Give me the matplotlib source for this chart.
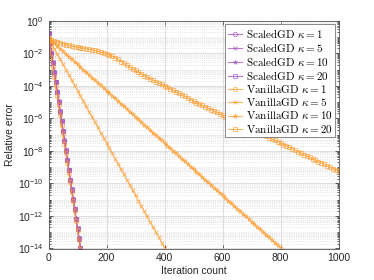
import matplotlib
matplotlib.use("Agg")
import matplotlib.pyplot as plt
import numpy as np
from matplotlib.ticker import FixedLocator, FixedFormatter, NullFormatter

plt.rcParams['mathtext.fontset'] = 'cm'
plt.rcParams['font.family'] = ['Liberation Sans', 'DejaVu Sans']

# ---------------- data (log10 of relative error) ----------------
iters_fast = list(range(0, 111, 5))
scaled_k1 = [-0.76, -1.36, -1.96, -2.56, -3.16, -3.76, -4.36, -4.96, -5.56, -6.16, -6.76, -7.36,
             -7.96, -8.56, -9.16, -9.76, -10.36, -10.96, -11.56, -12.16, -12.76, -13.36, -13.96]
scaled_k5 = [-0.76, -1.37, -1.97, -2.57, -3.17, -3.77, -4.37, -4.97, -5.57, -6.17, -6.77, -7.37,
             -7.97, -8.57, -9.17, -9.77, -10.37, -10.97, -11.57, -12.17, -12.77, -13.37, -13.97]
scaled_k10 = [-0.76, -1.37, -1.98, -2.58, -3.18, -3.78, -4.38, -4.98, -5.58, -6.18, -6.78, -7.38,
              -7.98, -8.58, -9.18, -9.78, -10.38, -10.98, -11.58, -12.18, -12.78, -13.38, -13.98]
scaled_k20 = [-0.76, -1.38, -1.99, -2.59, -3.19, -3.79, -4.39, -4.99, -5.59, -6.19, -6.79, -7.39,
              -7.99, -8.59, -9.19, -9.79, -10.39, -10.99, -11.59, -12.19, -12.79, -13.39, -13.99]
vanilla_k1 = [-1.08, -1.67, -2.26, -2.85, -3.44, -4.03, -4.62, -5.21, -5.80, -6.39, -6.98, -7.57,
              -8.16, -8.75, -9.34, -9.93, -10.52, -11.11, -11.70, -12.29, -12.88, -13.47, -14.06]

iters_k5 = list(range(0, 401, 10))
vanilla_k5 = [-1.08, -1.40, -1.72, -2.05, -2.37, -2.69, -3.01, -3.33, -3.66, -3.98, -4.30, -4.62,
              -4.94, -5.27, -5.59, -5.91, -6.23, -6.55, -6.88, -7.20, -7.52, -7.84, -8.16, -8.49,
              -8.81, -9.13, -9.45, -9.77, -10.10, -10.42, -10.74, -11.06, -11.38, -11.71, -12.03,
              -12.35, -12.67, -12.99, -13.32, -13.64, -13.96]

iters_k10 = list(range(0, 801, 10))
vanilla_k10 = [-1.08, -1.24, -1.40, -1.56, -1.72, -1.89, -2.05, -2.21, -2.37, -2.53, -2.69, -2.85,
               -3.01, -3.17, -3.33, -3.50, -3.66, -3.82, -3.98, -4.14, -4.30, -4.46, -4.62, -4.78,
               -4.94, -5.11, -5.27, -5.43, -5.59, -5.75, -5.91, -6.07, -6.23, -6.39, -6.55, -6.72,
               -6.88, -7.04, -7.20, -7.36, -7.52, -7.68, -7.84, -8.00, -8.16, -8.33, -8.49, -8.65,
               -8.81, -8.97, -9.13, -9.29, -9.45, -9.61, -9.77, -9.94, -10.10, -10.26, -10.42,
               -10.58, -10.74, -10.90, -11.06, -11.22, -11.38, -11.55, -11.71, -11.87, -12.03,
               -12.19, -12.35, -12.51, -12.67, -12.83, -12.99, -13.16, -13.32, -13.48, -13.64,
               -13.80, -13.96]

iters_k20 = list(range(0, 1001, 10))
vanilla_k20 = [-1.10, -1.17, -1.23, -1.29, -1.35, -1.41, -1.47, -1.52, -1.56, -1.60, -1.63, -1.66,
               -1.69, -1.72, -1.75, -1.79, -1.83, -1.87, -1.92, -1.97, -2.03, -2.10, -2.18, -2.27,
               -2.37, -2.52, -2.62, -2.73, -2.84, -2.95, -3.05, -3.16, -3.27, -3.37, -3.47, -3.56,
               -3.65, -3.74, -3.83, -3.92, -4.01, -4.10, -4.19, -4.28, -4.37, -4.46, -4.56, -4.65,
               -4.75, -4.85, -4.95, -5.04, -5.12, -5.21, -5.29, -5.38, -5.46, -5.55, -5.63, -5.72,
               -5.80, -5.89, -5.97, -6.06, -6.14, -6.23, -6.32, -6.40, -6.49, -6.57, -6.66, -6.75,
               -6.83, -6.92, -7.01, -7.10, -7.18, -7.27, -7.36, -7.44, -7.53, -7.62, -7.70, -7.79,
               -7.88, -7.97, -8.05, -8.14, -8.23, -8.31, -8.40, -8.49, -8.57, -8.66, -8.74, -8.83,
               -8.92, -9.00, -9.09, -9.17, -9.26]

x_ticks = [0, 200, 400, 600, 800, 1000]
y_exps = [0, -2, -4, -6, -8, -10, -12, -14]

purple = '#a24fc0'
orange = '#ff9a2a'

fig = plt.figure(figsize=(3.74, 2.80), dpi=100)
ax = fig.add_axes([0.1297, 0.1125, 0.7757, 0.8135])

series = [
    (iters_fast, scaled_k1, purple, 'o', r'$\mathrm{ScaledGD}\ \kappa = 1$'),
    (iters_fast, scaled_k5, purple, 'x', r'$\mathrm{ScaledGD}\ \kappa = 5$'),
    (iters_fast, scaled_k10, purple, '*', r'$\mathrm{ScaledGD}\ \kappa = 10$'),
    (iters_fast, scaled_k20, purple, 's', r'$\mathrm{ScaledGD}\ \kappa = 20$'),
    (iters_fast, vanilla_k1, orange, 'o', r'$\mathrm{VanillaGD}\ \kappa = 1$'),
    (iters_k5, vanilla_k5, orange, 'x', r'$\mathrm{VanillaGD}\ \kappa = 5$'),
    (iters_k10, vanilla_k10, orange, '*', r'$\mathrm{VanillaGD}\ \kappa = 10$'),
    (iters_k20, vanilla_k20, orange, 's', r'$\mathrm{VanillaGD}\ \kappa = 20$'),
]
for xs, ys, c, m, lab in series:
    ax.semilogy(xs, np.power(10.0, ys), color=c, marker=m, markersize=3.2,
                markerfacecolor='none', markeredgewidth=0.6, linewidth=0.8,
                alpha=0.75, label=lab)

ax.set_xlim(0, 1000)
ax.set_ylim(1e-14, 1)
ax.xaxis.set_major_locator(FixedLocator(x_ticks))
ax.set_xticklabels([str(v) for v in x_ticks])
ax.yaxis.set_major_locator(FixedLocator([10.0 ** e for e in y_exps]))
ax.yaxis.set_major_formatter(FixedFormatter([r'$\mathdefault{10^{%d}}$' % e for e in y_exps]))
minor = [k * 10.0 ** d for d in range(-14, 0) for k in range(1, 10)]
ax.yaxis.set_minor_locator(FixedLocator(minor))
ax.yaxis.set_minor_formatter(NullFormatter())

ax.grid(True, which='major', color='#d8d8d8', linewidth=0.6)
ax.grid(True, which='minor', axis='y', color='#d6d6d6', linewidth=0.5, linestyle=':')
ax.set_axisbelow(True)

ax.tick_params(which='both', direction='in', top=True, right=True, colors='#262626',
               labelsize=7.5, width=0.5)
ax.tick_params(which='major', length=3)
ax.tick_params(which='minor', length=1.5)
for s in ax.spines.values():
    s.set_color('#555555')
    s.set_linewidth(0.6)

ax.set_xlabel('Iteration count', fontsize=7.5, color='#262626', labelpad=2)
ax.set_ylabel('Relative error', fontsize=7.5, color='#262626', labelpad=2)

leg = ax.legend(loc='upper right', fontsize=8, numpoints=1, handlelength=1.3,
                handletextpad=0.3, labelspacing=0.1, borderpad=0.25, borderaxespad=0.3,
                fancybox=False, framealpha=1, edgecolor='#777777')
leg.get_frame().set_linewidth(0.6)

fig.savefig('out.png', dpi=100)
